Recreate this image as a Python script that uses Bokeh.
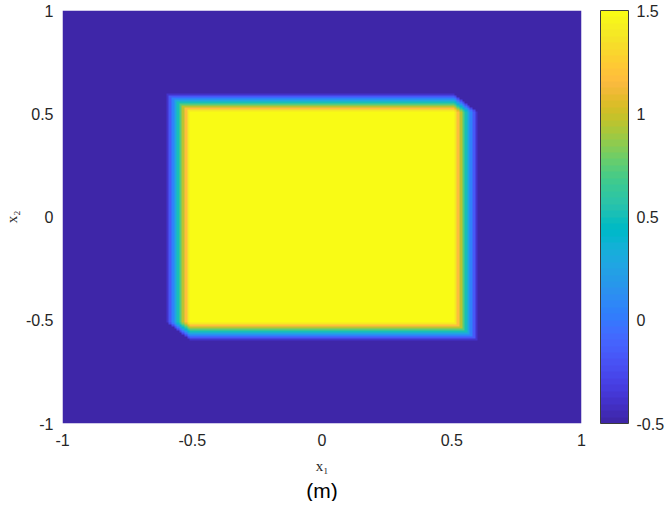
import numpy as np
from bokeh.plotting import figure
from bokeh.models import LinearColorMapper, ColorBar, FixedTicker, Title
from bokeh.embed import file_html
from bokeh.resources import INLINE

# ---- data ----
X_RANGE = [-1, 1]
Y_RANGE = [-1, 1]
X_TICKS = [-1, -0.5, 0, 0.5, 1]
X_TICK_LABELS = ["-1", "-0.5", "0", "0.5", "1"]
Y_TICKS = [-1, -0.5, 0, 0.5, 1]
Y_TICK_LABELS = ["-1", "-0.5", "0", "0.5", "1"]
CB_TICKS = [-0.5, 0, 0.5, 1, 1.5]
CB_TICK_LABELS = ["-0.5", "0", "0.5", "1", "1.5"]
LOW_VALUE = -0.5
HIGH_VALUE = 1.5
SQUARE_HALF = 0.555      # half-width of the square
SHIFT_HALF = 0.045       # half-length of the diagonal shift (smear)
GRID_N = 200

PARULA = [
    (0.2422, 0.1504, 0.6603), (0.2504, 0.1650, 0.7076), (0.2578, 0.1818, 0.7511), (0.2647, 0.1978, 0.7952),
    (0.2706, 0.2147, 0.8364), (0.2751, 0.2342, 0.8710), (0.2783, 0.2559, 0.8991), (0.2803, 0.2782, 0.9221),
    (0.2813, 0.3006, 0.9414), (0.2810, 0.3228, 0.9579), (0.2795, 0.3447, 0.9717), (0.2760, 0.3667, 0.9829),
    (0.2699, 0.3892, 0.9906), (0.2602, 0.4123, 0.9952), (0.2440, 0.4358, 0.9988), (0.2206, 0.4603, 0.9973),
    (0.1963, 0.4847, 0.9892), (0.1834, 0.5074, 0.9798), (0.1786, 0.5289, 0.9682), (0.1764, 0.5499, 0.9520),
    (0.1687, 0.5703, 0.9359), (0.1540, 0.5902, 0.9218), (0.1460, 0.6091, 0.9079), (0.1380, 0.6276, 0.8973),
    (0.1248, 0.6459, 0.8883), (0.1113, 0.6635, 0.8763), (0.0952, 0.6798, 0.8598), (0.0689, 0.6948, 0.8394),
    (0.0297, 0.7082, 0.8163), (0.0036, 0.7203, 0.7917), (0.0067, 0.7312, 0.7660), (0.0433, 0.7411, 0.7394),
    (0.0964, 0.7500, 0.7120), (0.1408, 0.7584, 0.6842), (0.1717, 0.7670, 0.6554), (0.1938, 0.7758, 0.6251),
    (0.2161, 0.7843, 0.5923), (0.2470, 0.7918, 0.5567), (0.2906, 0.7973, 0.5188), (0.3406, 0.8008, 0.4789),
    (0.3909, 0.8029, 0.4354), (0.4456, 0.8024, 0.3909), (0.5044, 0.7993, 0.3480), (0.5616, 0.7942, 0.3045),
    (0.6174, 0.7876, 0.2612), (0.6720, 0.7793, 0.2227), (0.7242, 0.7698, 0.1910), (0.7738, 0.7598, 0.1646),
    (0.8203, 0.7498, 0.1535), (0.8634, 0.7406, 0.1596), (0.9035, 0.7330, 0.1774), (0.9393, 0.7288, 0.2100),
    (0.9728, 0.7298, 0.2394), (0.9956, 0.7434, 0.2371), (0.9970, 0.7659, 0.2199), (0.9952, 0.7893, 0.2028),
    (0.9892, 0.8136, 0.1885), (0.9786, 0.8386, 0.1766), (0.9676, 0.8639, 0.1643), (0.9610, 0.8890, 0.1537),
    (0.9597, 0.9135, 0.1423), (0.9628, 0.9373, 0.1265), (0.9691, 0.9606, 0.1064), (0.9769, 0.9839, 0.0805),
]
palette = ["#%02x%02x%02x" % tuple(int(round(c * 255)) for c in rgb) for rgb in PARULA]

# ---- field: square smeared along the (1,-1) diagonal ----
h = (X_RANGE[1] - X_RANGE[0]) / GRID_N
xs = np.linspace(X_RANGE[0] + h / 2, X_RANGE[1] - h / 2, GRID_N)
ys = np.linspace(Y_RANGE[0] + h / 2, Y_RANGE[1] - h / 2, GRID_N)
X, Y = np.meshgrid(xs, ys)
a, d = SQUARE_HALF, SHIFT_HALF
lo = np.maximum.reduce([np.full_like(X, -d), -a - X, Y - a])
hi = np.minimum.reduce([np.full_like(X, d), a - X, Y + a])
frac = np.clip(hi - lo, 0, None) / (2 * d)
field = LOW_VALUE + (HIGH_VALUE - LOW_VALUE) * frac

mapper = LinearColorMapper(palette=palette, low=LOW_VALUE, high=HIGH_VALUE)

p = figure(x_range=tuple(X_RANGE), y_range=tuple(Y_RANGE),
           frame_width=519, frame_height=413,
           min_border_left=54, min_border_top=10, min_border_right=10, min_border_bottom=0,
           output_backend="svg", toolbar_location=None)
p.image(image=[field], x=X_RANGE[0], y=Y_RANGE[0], dw=X_RANGE[1] - X_RANGE[0],
        dh=Y_RANGE[1] - Y_RANGE[0], color_mapper=mapper)

p.grid.visible = False
p.outline_line_color = None
p.background_fill_color = "white"

TICK_FONT = "Liberation Sans"
TICK_SIZE = "16px"
for ax, ticks, labels in ((p.xaxis[0], X_TICKS, X_TICK_LABELS), (p.yaxis[0], Y_TICKS, Y_TICK_LABELS)):
    ax.ticker = FixedTicker(ticks=ticks)
    ax.major_label_overrides = {t: l for t, l in zip(ticks, labels)}
    ax.axis_line_color = None
    ax.major_tick_line_color = None
    ax.minor_tick_line_color = None
    ax.major_tick_out = 0
    ax.major_tick_in = 0
    ax.major_label_text_font = TICK_FONT
    ax.major_label_text_font_size = TICK_SIZE
    ax.major_label_text_color = "#262626"
    ax.axis_label_text_font = "Liberation Serif"
    ax.axis_label_text_font_style = "normal"
    ax.axis_label_text_font_size = "15px"
    ax.axis_label_text_color = "#262626"

p.xaxis.major_label_standoff = 10
p.yaxis.major_label_standoff = 9
p.xaxis.axis_label = "x\u2081"
p.yaxis.axis_label = "x\u2082"
p.xaxis.axis_label_standoff = 9
p.yaxis.axis_label_standoff = 3

cb = ColorBar(color_mapper=mapper, ticker=FixedTicker(ticks=CB_TICKS),
              major_label_overrides={t: l for t, l in zip(CB_TICKS, CB_TICK_LABELS)},
              width=28, height=413, padding=0, margin=0, label_standoff=8,
              major_tick_line_color=None, minor_tick_line_color=None,
              bar_line_color="#3c3c3c", bar_line_width=1,
              major_label_text_font=TICK_FONT, major_label_text_font_size=TICK_SIZE,
              major_label_text_color="#262626", background_fill_color=None,
              border_line_color=None, location=(19, 0))
p.add_layout(cb, "right")

p.add_layout(Title(text="(m)", align="center", text_font=TICK_FONT, text_font_size="21px",
                   text_font_style="normal", text_color="#000000", standoff=0), "below")

open("out.html", "w").write(file_html(p, INLINE))
